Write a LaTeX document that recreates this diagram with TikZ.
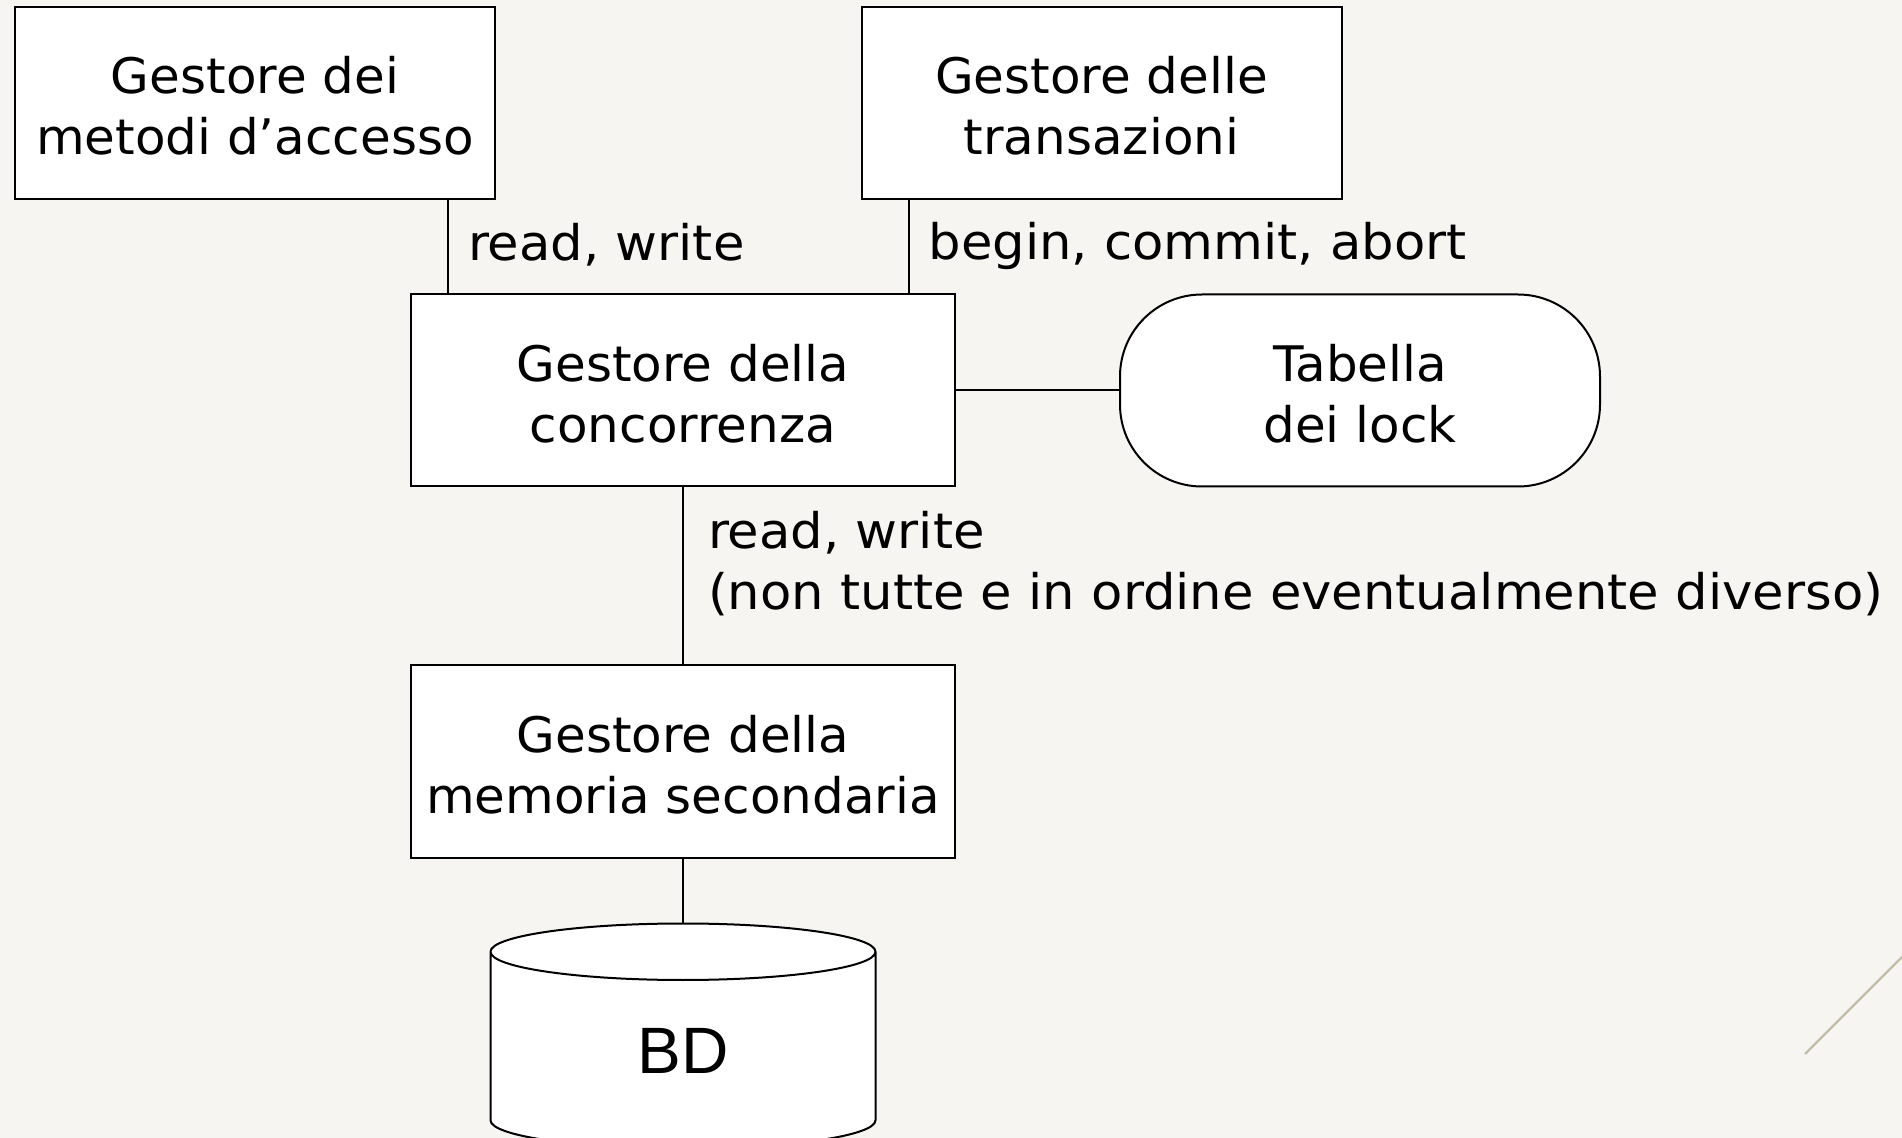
\documentclass[tikz,border=0pt]{standalone}
\usepackage{fontspec}
\setmainfont{DejaVu Sans}[FakeStretch=1.045]
\newfontfamily\boxfont{DejaVu Sans}[FakeStretch=1.02, Ligatures=TeX]
\newfontfamily\bdfont{Liberation Sans}
\usepackage{tikz}
\usetikzlibrary{positioning,shapes.geometric}
\definecolor{bgcol}{RGB}{246,245,241}
\definecolor{deco}{RGB}{196,190,168}

\tikzset{
	box/.style={draw, rectangle, fill=white, line width=1pt, align=center, minimum width=240pt, minimum height=96pt, inner sep=0pt, text height=52pt, text depth=0pt, font=\boxfont\fontsize{24.5}{30.5}\selectfont},
	lbl/.style={inner sep=0pt, align=left},
}

\begin{document}
\begin{tikzpicture}[x=0.5pt, y=-0.5pt, node distance=48pt, line width=1pt, font=\fontsize{24.5}{30.5}\selectfont]
				\fill[bgcol] (0,0) rectangle (1902,1138);
				\useasboundingbox (0,0) rectangle (1902,1138);
				\draw[deco, line width=1.2pt] (1805,1054) -- (1920,939);
				
				\node[box] (metodi) at (255,103) {Gestore dei\\metodi d'accesso};
				\node[box] (trans) at (1101.5,103) {Gestore delle\\transazioni};
				\node[box, minimum width=272pt] (conc) at (683,390.5) {Gestore della\\concorrenza};
				\node[box, rounded corners=41pt, right=81.5pt of conc] (lock) {Tabella\\dei lock};
				\node[box, minimum width=272pt, below=88.5pt of conc] (mem) {Gestore della\\memoria secondaria};
				\node[draw, cylinder, shape border rotate=90, aspect=0.62, fill=white, minimum width=192.5pt, minimum height=112.5pt, inner sep=0pt, font=\bdfont\fontsize{32.8}{38}\selectfont, below=32pt of mem] (bd) {BD};
				
				\draw ([xshift=-24pt]metodi.south east) -- node[lbl, right=9.5pt, yshift=1pt] {read, write} ([xshift=-24pt]metodi.south east |- conc.north);
				\draw ([xshift=24pt]trans.south west) -- node[lbl, right=9.5pt, yshift=0.5pt] {begin, commit, abort} ([xshift=24pt]trans.south west |- conc.north);
				\draw (conc) -- (lock);
				\draw (conc) -- node[lbl, right=12pt, yshift=6pt] {read, write\\(non tutte e in ordine eventualmente diverso)} (mem);
				\draw (mem) -- (bd);
			\end{tikzpicture}
\end{document}
